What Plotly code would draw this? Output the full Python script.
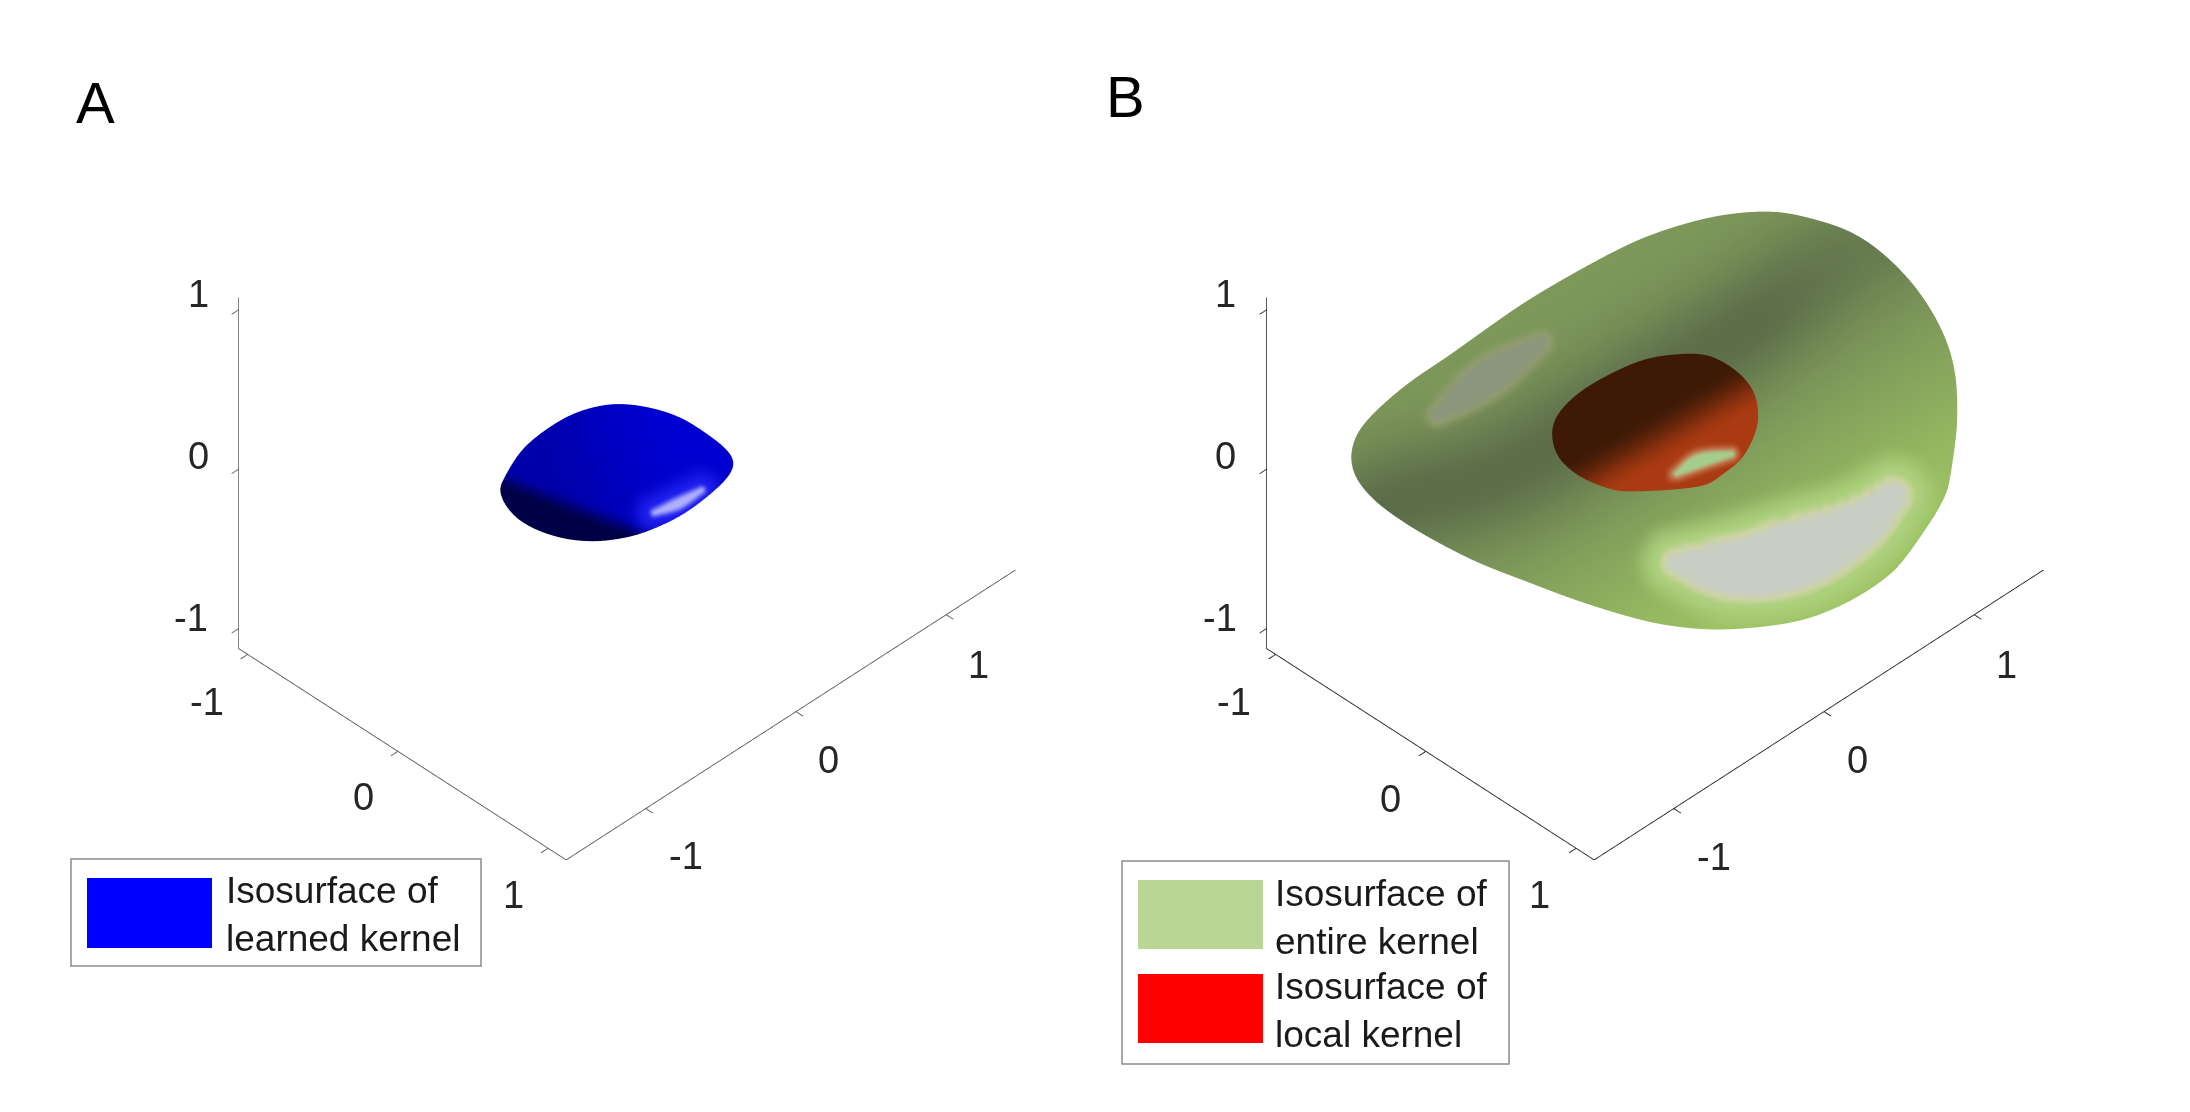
import numpy as np
import plotly.graph_objects as go

# ---- data (view-plane outlines, in axis units) ----
tick_vals = [-1, 0, 1]
tick_text = ["-1", "0", "1"]
x_range = [-1.06, 1.12]
y_range = [-1.53, 1.46]
z_range = [-1.126, 1.076]

blue_a = [-0.596,-0.569,-0.499,-0.404,-0.278,-0.152,-0.027,0.115,0.256,0.382,0.468,0.500,0.468,0.366,0.241,0.083,-0.042,-0.168,-0.310,-0.451,-0.546]
blue_b = [-0.272,-0.193,-0.083,0.003,0.082,0.126,0.140,0.121,0.074,-0.005,-0.075,-0.138,-0.209,-0.303,-0.390,-0.461,-0.492,-0.503,-0.487,-0.437,-0.366]

green_a = [-1.424,-1.420,-1.381,-1.287,-1.145,-0.971,-0.783,-0.586,-0.318,-0.058,0.208,0.412,0.585,0.742,0.900,1.041,1.183,1.293,1.371,1.411,1.419,1.408,1.362,1.272,1.140,0.972,0.774,0.585,0.334,0.129,-0.075,-0.358,-0.609,-0.830,-1.034,-1.191,-1.317,-1.396]
green_b = [-0.138,-0.060,0.027,0.129,0.247,0.364,0.498,0.632,0.787,0.917,1.002,1.036,1.038,1.006,0.954,0.868,0.734,0.585,0.428,0.270,0.098,-0.053,-0.311,-0.468,-0.626,-0.751,-0.846,-0.893,-0.916,-0.906,-0.869,-0.783,-0.689,-0.603,-0.500,-0.406,-0.311,-0.217]

red_a = [-0.484,-0.453,-0.359,-0.232,-0.076,0.062,0.208,0.302,0.396,0.459,0.483,0.475,0.412,0.318,0.208,-0.107,-0.232,-0.358,-0.453]
red_b = [0.004,0.099,0.194,0.272,0.343,0.372,0.377,0.349,0.286,0.208,0.121,0.019,-0.107,-0.185,-0.245,-0.267,-0.248,-0.193,-0.107]

# highlight ridges and the shadow line: a, b, half width
green_spot1 = ([0.098,0.365,0.671,0.947,1.119], [-0.602,-0.626,-0.563,-0.437,-0.288], [0.03,0.118,0.145,0.10,0.05])
green_spot2 = ([-1.019,-0.785,-0.532], [0.090,0.263,0.428], [0.015,0.065,0.015])
green_shadow = ([-1.30,-1.176,-0.627,0.396,0.947,1.10], [-0.36,-0.311,-0.137,0.476,0.836,0.93], [0,0,0,0,0,0])
red_spot = ([0.098,0.208,0.357], [-0.185,-0.123,-0.091], [0.006,0.028,0.010])
blue_spot = ([0.131,0.24,0.349], [-0.367,-0.325,-0.264], [0.006,0.018,0.006])

legend_a = ["Isosurface of<br>learned kernel"]
legend_b = ["Isosurface of<br>entire kernel", "Isosurface of<br>local kernel"]

W, H = 2190, 1112
EYE = np.array([0.540, -0.540, 0.645])
EYE_SCALE = 2.0
CENTER_Z = -0.3064
ASPECT = 1 / 2.617
Z_STRETCH = 0.982


def smooth(e0, e1, v):
    t = np.clip((v - e0) / (e1 - e0), 0, 1)
    return t * t * (3 - 2 * t)


def mix(c, col, t):
    return c * (1 - t[..., None]) + np.array(col, float) * t[..., None]


def catmull(p0, p1, p2, p3, t):
    return 0.5 * (2 * p1 + (p2 - p0) * t + (2 * p0 - 5 * p1 + 4 * p2 - p3) * t**2 + (3 * p1 - p0 - 3 * p2 + p3) * t**3)


def closed_spline(pa, pb, n=10):
    p = np.column_stack([pa, pb])
    out = []
    m = len(p)
    for i in range(m):
        for t in np.linspace(0, 1, n, endpoint=False):
            out.append(catmull(p[(i - 1) % m], p[i], p[(i + 1) % m], p[(i + 2) % m], t))
    out = np.array(out)
    return (np.roll(out, 3, axis=0) + np.roll(out, 1, axis=0) + out + np.roll(out, -1, axis=0) + np.roll(out, -3, axis=0)) / 5


def ridge_dist(a, b, ridge):
    p = np.column_stack(ridge).astype(float)
    m = len(p)
    pts = []
    for i in range(m - 1):
        for t in np.linspace(0, 1, 25):
            pts.append(catmull(p[max(i - 1, 0)], p[i], p[i + 1], p[min(i + 2, m - 1)], t))
    pts = np.array(pts)
    d = np.sqrt((a[..., None] - pts[:, 0]) ** 2 + (b[..., None] - pts[:, 1]) ** 2)
    return (d - pts[:, 2]).min(axis=-1)


def paint_blue(a, b):
    c = np.zeros(a.shape + (3,)) + np.array([0, 0, 170.0])
    c = mix(c, (0, 0, 208), smooth(-0.5, 0.2, a + 0.4 * b))
    n = (a + 0.388) * (-0.36) + (b + 0.290) * (-0.93)
    c = mix(c, (0, 0, 70), smooth(-0.06, 0.05, n))
    d = ridge_dist(a, b, blue_spot)
    c = mix(c, (35, 35, 240), smooth(0.14, 0.0, d))
    c = mix(c, (175, 175, 255), smooth(0.03, -0.01, d))
    return c


def paint_green(a, b):
    c = np.zeros(a.shape + (3,)) + np.array([126, 152, 90.0])
    band = a * 0.5 - (b - 0.25) * 0.87
    c = mix(c, (156, 194, 98), smooth(0.2, 1.3, band))
    sh = ridge_dist(a, b, green_shadow)
    c = mix(c, (88, 104, 72), 0.9 * (1 - 0.35 * smooth(0.4, 1.1, a)) * np.exp(-(sh**2) / (2 * 0.2**2)))
    d = ridge_dist(a, b, green_spot1)
    c = mix(c, (172, 208, 125), smooth(0.20, 0.05, d))
    c = mix(c, (207, 212, 165), smooth(0.06, 0.025, d))
    c = mix(c, (201, 206, 196), smooth(0.025, 0.0, d))
    d2 = ridge_dist(a, b, green_spot2)
    c = mix(c, (146, 156, 112), smooth(0.07, 0.015, d2))
    c = mix(c, (140, 150, 125), smooth(0.025, 0.0, d2))
    return c


def paint_red(a, b):
    c = np.zeros(a.shape + (3,)) + np.array([62, 26, 6.0])
    n = a * 0.5 - (b - 0.09) * 0.866
    c = mix(c, (170, 58, 18), smooth(-0.02, 0.22, n))
    d = ridge_dist(a, b, red_spot)
    c = mix(c, (200, 130, 90), smooth(0.05, 0.0, d))
    c = mix(c, (165, 205, 140), smooth(0.02, -0.008, d))
    return c


def shell(pa, pb, depth, front, paint, center, name):
    edge = closed_spline(pa, pb)
    mid = edge.mean(axis=0)
    th = np.linspace(0, np.pi, 81)
    s, h = np.sin(th), np.cos(th)
    A = mid[0] + np.outer(s, edge[:, 0] - mid[0])
    B = mid[1] + np.outer(s, edge[:, 1] - mid[1])
    T = np.repeat(h[:, None], edge.shape[0], axis=1) * depth + front
    # view-plane units and depth -> data coordinates
    X = center[0] + 0.709 * A - 0.463 * B + 0.543 * T
    Y = center[1] + 0.709 * A + 0.463 * B - 0.543 * T
    Z = center[2] + 0.777 * B + 0.647 * T
    col = np.clip(paint(A, B), 0, 255).round().astype(int)
    vc = [f"rgb({r},{g},{b})" for r, g, b in col.reshape(-1, 3)]
    nr, na = A.shape
    ids = np.arange(nr * na).reshape(nr, na)
    p00, p01 = ids[:-1, :], np.roll(ids[:-1, :], -1, axis=1)
    p10, p11 = ids[1:, :], np.roll(ids[1:, :], -1, axis=1)
    i = np.concatenate([p00.ravel(), p00.ravel()])
    j = np.concatenate([p10.ravel(), p11.ravel()])
    k = np.concatenate([p11.ravel(), p01.ravel()])
    return go.Mesh3d(x=X.ravel(), y=Y.ravel(), z=Z.ravel(), i=i, j=j, k=k, vertexcolor=vc,
                     flatshading=False, name=name, hoverinfo="skip", showscale=False,
                     lighting=dict(ambient=1, diffuse=0, specular=0, fresnel=0, roughness=1))


center = [(x_range[0] + x_range[1]) / 2, (y_range[0] + y_range[1]) / 2, (z_range[0] + z_range[1]) / 2]
fig = go.Figure()
t = shell(blue_a, blue_b, 0.22, 0.0, paint_blue, center, "learned kernel"); t.scene = "scene"; fig.add_trace(t)
t = shell(green_a, green_b, 0.22, 0.0, paint_green, center, "entire kernel"); t.scene = "scene2"; fig.add_trace(t)
t = shell(red_a, red_b, 0.10, 0.30, paint_red, center, "local kernel"); t.scene = "scene2"; fig.add_trace(t)


def axis(rng, col):
    return dict(range=rng, tickmode="array", tickvals=tick_vals, ticktext=tick_text, showticklabels=False,
                showline=True, linecolor=col, linewidth=2, ticks="inside", ticklen=10, tickwidth=2, tickcolor=col,
                showgrid=False, zeroline=False, showbackground=False, showspikes=False, title=dict(text=""))


def scene(dom, col):
    return dict(domain=dict(x=dom, y=[0, 1]), xaxis=axis(x_range, col), yaxis=axis(y_range, col), zaxis=axis(z_range, col),
                aspectmode="manual",
                aspectratio=dict(x=(x_range[1] - x_range[0]) * ASPECT, y=(y_range[1] - y_range[0]) * ASPECT, z=(z_range[1] - z_range[0]) * Z_STRETCH * ASPECT),
                bgcolor="white",
                camera=dict(projection=dict(type="orthographic"), center=dict(x=0, y=0, z=CENTER_Z),
                            eye=dict(x=EYE[0] * EYE_SCALE, y=EYE[1] * EYE_SCALE, z=EYE[2] * EYE_SCALE + CENTER_Z),
                            up=dict(x=0, y=0, z=1)))


shapes, annos = [], []


def box(x0, y0, x1, y1, fill, line):
    shapes.append(dict(type="rect", xref="paper", yref="paper", layer="above", x0=x0 / W, x1=x1 / W, y0=1 - y0 / H, y1=1 - y1 / H,
                       fillcolor=fill, line=dict(color=line, width=1.5 if line != "rgba(0,0,0,0)" else 0)))


def text(x, y, s, size, color="#1a1a1a"):
    annos.append(dict(xref="paper", yref="paper", x=x / W, y=1 - y / H, text=s, showarrow=False, xanchor="left", yanchor="top",
                      align="left", borderpad=0, font=dict(family="Liberation Sans", size=size, color=color)))


def tick_label(x, y, s):
    annos.append(dict(xref="paper", yref="paper", x=(x - 8) / W, y=1 - (y - 7) / H, text=s, showarrow=False, xanchor="center", yanchor="middle",
                      font=dict(family="Liberation Sans", size=38, color="#262626")))


# tick labels: panel A and panel B, in the order -1, 0, 1
for s, p in zip(tick_text, [(191, 617), (198, 455), (198, 293)]):
    tick_label(p[0], p[1], s)
for s, p in zip(tick_text, [(207, 701), (363, 796), (513, 894)]):
    tick_label(p[0], p[1], s)
for s, p in zip(tick_text, [(686, 855), (828, 759), (978, 664)]):
    tick_label(p[0], p[1], s)
for s, p in zip(tick_text, [(1220, 617), (1225, 455), (1225, 293)]):
    tick_label(p[0], p[1], s)
for s, p in zip(tick_text, [(1234, 701), (1390, 798), (1539, 894)]):
    tick_label(p[0], p[1], s)
for s, p in zip(tick_text, [(1714, 856), (1857, 759), (2006, 664)]):
    tick_label(p[0], p[1], s)

box(63, 851, 473, 958, "white", "#8c8c8c")
box(79, 870, 204, 940, "#0000ff", "rgba(0,0,0,0)")
text(217, 861, legend_a[0], 37)
box(1114, 853, 1501, 1056, "white", "#8c8c8c")
box(1130, 872, 1255, 941, "#bbd594", "rgba(0,0,0,0)")
box(1130, 966, 1255, 1035, "#ff0000", "rgba(0,0,0,0)")
text(1266, 864, legend_b[0], 37)
text(1266, 957, legend_b[1], 37)
text(67, 61, "A", 58, "#000000")
text(1097, 55, "B", 58, "#000000")

fig.update_layout(width=W, height=H, autosize=False, margin=dict(l=0, r=0, t=0, b=0), paper_bgcolor="white", showlegend=False,
                  scene=scene([119 / W, 1119 / W], "#5a5a5a"), scene2=scene([1147 / W, 2147 / W], "#222222"),
                  shapes=shapes, annotations=annos)
fig.write_html("out.html")
